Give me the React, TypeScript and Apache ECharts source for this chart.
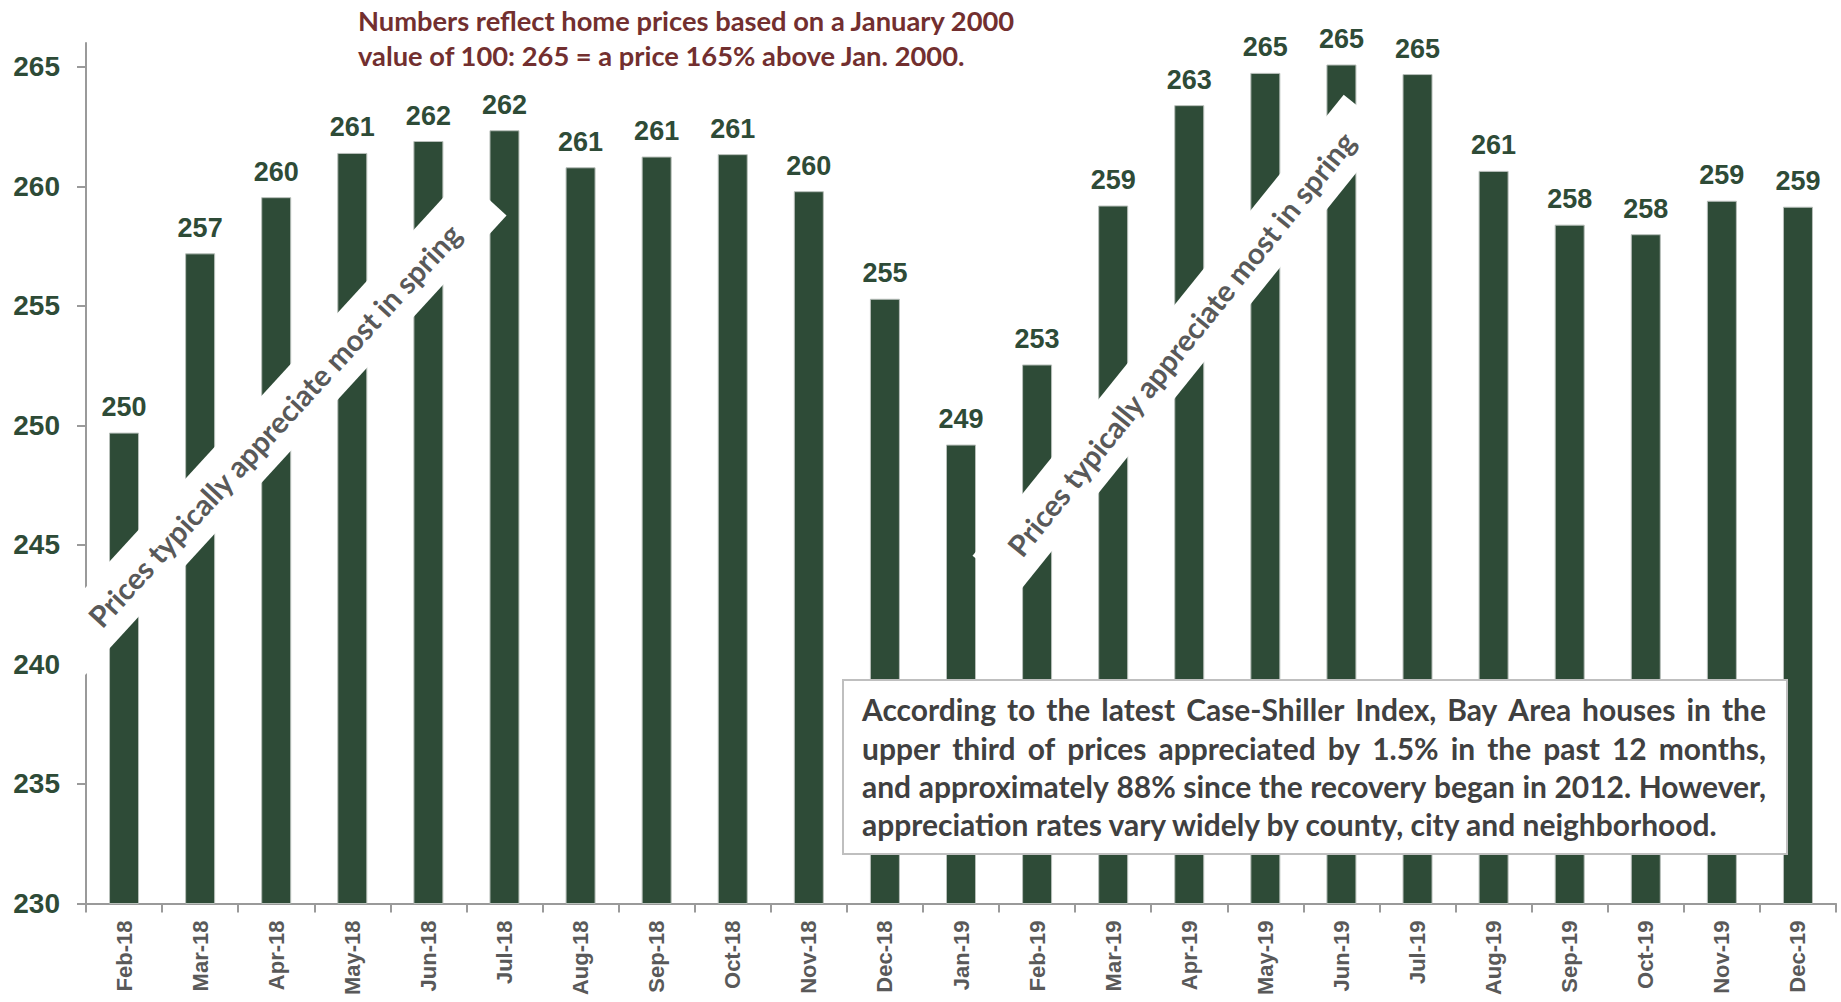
import React, { useEffect, useRef } from 'react';
import * as echarts from 'echarts';

const categories = [
  'Feb-18', 'Mar-18', 'Apr-18', 'May-18', 'Jun-18', 'Jul-18', 'Aug-18', 'Sep-18', 'Oct-18', 'Nov-18', 'Dec-18',
  'Jan-19', 'Feb-19', 'Mar-19', 'Apr-19', 'May-19', 'Jun-19', 'Jul-19', 'Aug-19', 'Sep-19', 'Oct-19', 'Nov-19', 'Dec-19',
];
const values = [
  249.7, 257.2, 259.55, 261.4, 261.9, 262.35, 260.8, 261.25, 261.35, 259.8, 255.3,
  249.2, 252.55, 259.2, 263.4, 264.75, 265.1, 264.7, 260.65, 258.4, 258.0, 259.4, 259.15,
];
const yTicks = [230, 235, 240, 245, 250, 255, 260, 265];
const titleLines = [
  'Numbers reflect home prices based on a January 2000',
  'value of 100: 265 = a price 165% above Jan. 2000.',
];
const noteLines = [
  'According to the latest Case-Shiller Index, Bay Area houses in the',
  'upper third of prices appreciated by 1.5% in the past 12 months,',
  'and approximately 88% since the recovery began in 2012. However,',
  'appreciation rates vary widely by county, city and neighborhood.',
];
const bannerText = 'Prices typically appreciate most in spring';

const GREEN = '#2E4B37';
const AXIS = '#9a9a9a';
const SANS = '"Liberation Sans", Arial, sans-serif';
const HUMAN = 'Lato, "Open Sans", sans-serif';

function makeMeasure() {
  const c = document.createElement('canvas');
  const ctx = c.getContext('2d')!;
  return (text: string, font: string) => {
    ctx.font = font;
    return ctx.measureText(text).width;
  };
}

export default function App() {
  const ref = useRef<HTMLDivElement>(null);

  useEffect(() => {
    if (!ref.current) return;
    const chart = echarts.init(ref.current, undefined, { renderer: 'svg' });
    const measure = makeMeasure();
    const fit = (text: string, target: number) =>
      (100 * target) / measure(text, `bold 100px ${HUMAN}`);

    const graphics: any[] = [];

    // Title
    const titleSize = fit(titleLines[0], 658);
    titleLines.forEach((t, i) => {
      graphics.push({
        type: 'text',
        x: 358,
        y: [20, 55][i],
        z: 30,
        style: {
          text: t,
          fill: '#722F2F',
          font: `bold ${titleSize}px ${HUMAN}`,
          align: 'left',
          verticalAlign: 'middle',
        },
      });
    });

    // Banners
    const bannerSize = fit(bannerText, 535);
    const banners = [
      { cx: 274.3, cy: 425.3, len: 623, angle: 47.5 },
      { cx: 1181.0, cy: 343.7, len: 592, angle: 51.2 },
    ];
    banners.forEach((b) => {
      graphics.push({
        type: 'group',
        x: b.cx,
        y: b.cy,
        rotation: (b.angle * Math.PI) / 180,
        z: 10,
        children: [
          {
            type: 'rect',
            shape: { x: -b.len / 2, y: -29.4, width: b.len, height: 58.8 },
            style: { fill: '#ffffff' },
            z: 10,
          },
          {
            type: 'text',
            x: 0,
            y: 0,
            z: 11,
            style: {
              text: bannerText,
              fill: '#595959',
              font: `bold ${bannerSize}px ${HUMAN}`,
              align: 'center',
              verticalAlign: 'middle',
            },
          },
        ],
      });
    });

    // Note box
    graphics.push({
      type: 'rect',
      z: 20,
      shape: { x: 843, y: 680, width: 944, height: 174 },
      style: { fill: '#ffffff', stroke: '#BFBFBF', lineWidth: 2 },
    });
    const noteSize = fit(noteLines[3], 859);
    const noteFont = `bold ${noteSize}px ${HUMAN}`;
    const noteX = 862;
    const noteW = 904;
    const baselines = [720, 758.3, 796.7, 835];
    noteLines.forEach((line, i) => {
      const y = baselines[i] - noteSize * 0.36;
      if (i === noteLines.length - 1) {
        graphics.push({
          type: 'text', x: noteX, y, z: 21,
          style: { text: line, fill: '#404040', font: noteFont, align: 'left', verticalAlign: 'middle' },
        });
        return;
      }
      const words = line.split(' ');
      const ws = words.map((w) => measure(w, noteFont));
      const total = ws.reduce((a, b) => a + b, 0);
      const gap = (noteW - total) / (words.length - 1);
      let x = noteX;
      words.forEach((w, k) => {
        graphics.push({
          type: 'text', x, y, z: 21,
          style: { text: w, fill: '#404040', font: noteFont, align: 'left', verticalAlign: 'middle' },
        });
        x += ws[k] + gap;
      });
    });

    const option: any = {
      animation: false,
      grid: { left: 86, right: 5, top: 43, bottom: 98.5, containLabel: false },
      xAxis: {
        type: 'category',
        data: categories,
        boundaryGap: true,
        axisLine: { show: true, lineStyle: { color: AXIS, width: 2 } },
        axisTick: { show: true, length: 9, alignWithLabel: false, lineStyle: { color: AXIS, width: 2 } },
        axisLabel: {
          interval: 0,
          rotate: 90,
          margin: 17,
          color: '#595959',
          fontSize: 22,
          fontWeight: 'bold',
          fontFamily: SANS,
        },
      },
      yAxis: {
        type: 'value',
        min: 230,
        max: 266,
        axisLine: { show: true, lineStyle: { color: AXIS, width: 2 } },
        axisTick: { show: true, length: 9, customValues: yTicks, lineStyle: { color: AXIS, width: 2 } },
        axisLabel: {
          customValues: yTicks,
          margin: 26,
          color: GREEN,
          fontSize: 28,
          fontWeight: 'bold',
          fontFamily: SANS,
        },
        splitLine: { show: false },
      },
      series: [
        {
          type: 'bar',
          data: values,
          barWidth: 30,
          itemStyle: { color: GREEN, borderColor: '#b8bfba', borderWidth: 1 },
          label: {
            show: true,
            position: 'top',
            distance: 12,
            formatter: (p: any) => String(Math.round(p.value)),
            color: GREEN,
            fontSize: 27,
            fontWeight: 'bold',
            fontFamily: SANS,
          },
        },
      ],
      graphic: graphics,
    };
    chart.setOption(option);
    return () => chart.dispose();
  }, []);

  return (
    <div
      ref={ref}
      style={{ position: 'absolute', left: 0, top: 0, width: 1841, height: 1002, background: '#ffffff' }}
    />
  );
}
